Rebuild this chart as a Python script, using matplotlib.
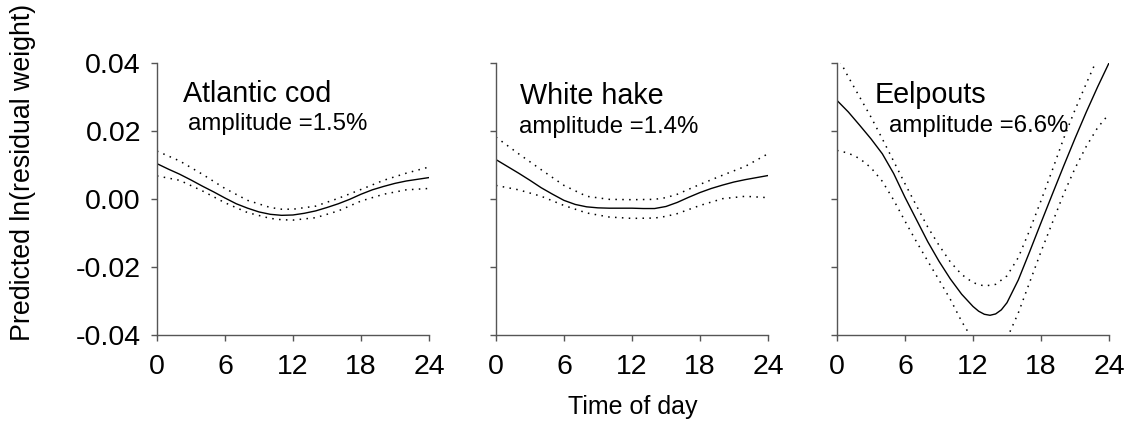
import matplotlib
matplotlib.use("Agg")
import matplotlib.pyplot as plt

plt.rcParams['font.family'] = ['Liberation Sans', 'DejaVu Sans']

# ---- Atlantic cod ----
cod_hours = list(range(25))
cod_fit = [0.0104, 0.0088, 0.0073, 0.0056, 0.0038, 0.0021, 0.0003, -0.0014,
           -0.0027, -0.0038, -0.0045, -0.0048, -0.0047, -0.0042, -0.0035,
           -0.0025, -0.0014, -0.0001, 0.0014, 0.0027, 0.0037, 0.0046, 0.0053,
           0.0058, 0.0063]
cod_band_hours = [0, 2, 4, 6, 8, 10, 11, 12, 14, 16, 18, 20, 22, 24]
cod_upper = [0.0141, 0.0112, 0.0073, 0.0031, -0.0004, -0.0025, -0.0030, -0.0030,
             -0.0021, 0.0002, 0.0028, 0.0055, 0.0076, 0.0094]
cod_lower = [0.0068, 0.0055, 0.0024, -0.0011, -0.0040, -0.0057, -0.0061, -0.0062,
             -0.0055, -0.0035, -0.0006, 0.0014, 0.0027, 0.0031]

# ---- White hake ----
hake_hours = list(range(25))
hake_fit = [0.0116, 0.0096, 0.0076, 0.0055, 0.0033, 0.0014, -0.0004, -0.0016,
            -0.0023, -0.0026, -0.0027, -0.0027, -0.0027, -0.0028, -0.0028,
            -0.0022, -0.0010, 0.0005, 0.0019, 0.0031, 0.0041, 0.0050, 0.0057,
            0.0063, 0.0069]
hake_band_hours = [0, 2, 4, 6, 8, 10, 12, 14, 15, 16, 18, 20, 22, 24]
hake_upper = [0.0182, 0.0133, 0.0086, 0.0040, 0.0008, -0.0001, -0.0002, -0.0001,
              0.0004, 0.0014, 0.0043, 0.0070, 0.0096, 0.0133]
hake_lower = [0.0040, 0.0027, 0.0008, -0.0019, -0.0041, -0.0053, -0.0057, -0.0056,
              -0.0051, -0.0043, -0.0019, 0.0001, 0.0008, 0.0004]

# ---- Eelpouts ----
eel_hours = [0, 1, 2, 3, 4, 5, 6, 7, 8, 9, 10, 11, 12, 12.5, 13, 13.5, 14,
             14.5, 15, 16, 17, 18, 19, 20, 21, 22, 23, 24]
eel_fit = [0.0290, 0.0256, 0.0217, 0.0177, 0.0133, 0.0075, 0.0005, -0.0060,
           -0.0125, -0.0183, -0.0235, -0.0280, -0.0316, -0.0330, -0.0339,
           -0.0342, -0.0338, -0.0326, -0.0305, -0.0238, -0.0155, -0.0070,
           0.0014, 0.0097, 0.0178, 0.0256, 0.0330, 0.0400]
eel_band_hours = list(range(25))
eel_upper = [0.0422, 0.0359, 0.0300, 0.0241, 0.0177, 0.0111, 0.0045, -0.0019,
             -0.0082, -0.0136, -0.0185, -0.0222, -0.0246, -0.0256, -0.0251,
             -0.0226, -0.0172, -0.0092, -0.0005, 0.0085, 0.0178, 0.0262, 0.0340,
             0.0415, 0.0490]
eel_lower = [0.0143, 0.0135, 0.0119, 0.0092, 0.0052, -0.0003, -0.0065, -0.0125,
             -0.0182, -0.0238, -0.0295, -0.0360, -0.0415, -0.0440, -0.0445,
             -0.0410, -0.0335, -0.0245, -0.0155, -0.0070, 0.0015, 0.0090, 0.0155,
             0.0210, 0.0250]

species = ["Atlantic cod", "White hake", "Eelpouts"]
amplitudes = ["amplitude =1.5%", "amplitude =1.4%", "amplitude =6.6%"]

panels = [
    (cod_hours, cod_fit, cod_band_hours, cod_upper, cod_lower),
    (hake_hours, hake_fit, hake_band_hours, hake_upper, hake_lower),
    (eel_hours, eel_fit, eel_band_hours, eel_upper, eel_lower),
]

x_ticks = [0, 6, 12, 18, 24]
y_ticks = [-0.04, -0.02, 0.00, 0.02, 0.04]
y_ticklabels = ["-0.04", "-0.02", "0.00", "0.02", "0.04"]

# label anchor positions (axes fraction, text baseline)
title_pos = [(0.096, 0.857), (0.088, 0.850), (0.140, 0.853)]
amp_pos = [(0.114, 0.753), (0.085, 0.743), (0.190, 0.746)]

fig = plt.figure(figsize=(11.3, 4.34), dpi=100)
lefts = [0.1389, 0.4389, 0.7407]
spine_col = "#555555"
dots = (0, (1, 3.5))

for i, (lft, (hx, fit, bx, up, lo)) in enumerate(zip(lefts, panels)):
    ax = fig.add_axes([lft, 0.2281, 0.2407, 0.6267])
    ax.plot(hx, fit, color="black", lw=1.0)
    ax.plot(bx, up, color="black", lw=1.1, linestyle=dots)
    ax.plot(bx, lo, color="black", lw=1.1, linestyle=dots)
    ax.set_xlim(0, 24)
    ax.set_ylim(-0.04, 0.04)
    ax.set_xticks(x_ticks)
    ax.set_yticks(y_ticks)
    if i == 0:
        ax.set_yticklabels(y_ticklabels)
    else:
        ax.set_yticklabels([])
    for s in ("top", "right"):
        ax.spines[s].set_visible(False)
    for s in ("left", "bottom"):
        ax.spines[s].set_color(spine_col)
        ax.spines[s].set_linewidth(1.0)
    ax.tick_params(axis="both", direction="out", length=4, width=1.0,
                   color=spine_col, labelsize=20.5)
    ax.tick_params(axis="x", pad=10)
    ax.tick_params(axis="y", pad=7.5)
    ax.text(*title_pos[i], species[i], transform=ax.transAxes,
            fontsize=20.7, va="baseline", ha="left")
    ax.text(*amp_pos[i], amplitudes[i], transform=ax.transAxes,
            fontsize=17.3, va="baseline", ha="left")

fig.text(0.0204, 0.6025, "Predicted ln(residual weight)", rotation=90,
         fontsize=19.3, ha="center", va="center")
fig.text(0.560, 0.062, "Time of day", fontsize=18, ha="center", va="center")

fig.savefig("out.png", dpi=100)
